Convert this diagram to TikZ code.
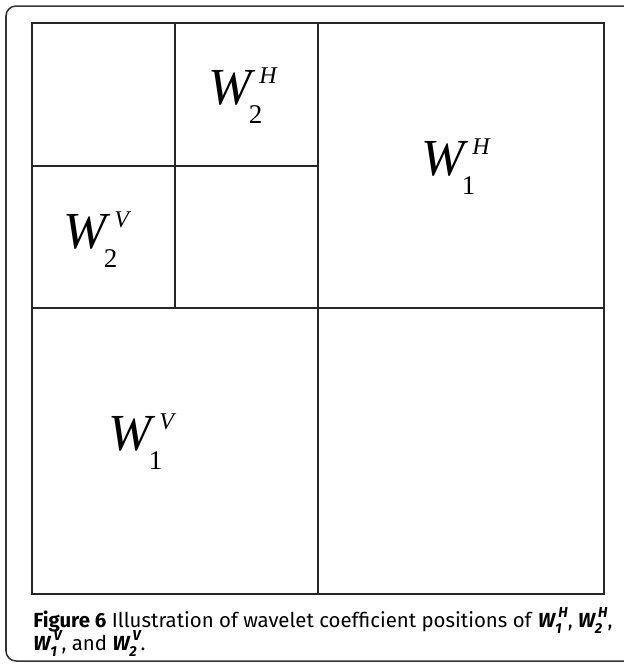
\documentclass[tikz,border=0pt]{standalone}
\usepackage{fontspec}
\setmainfont{Liberation Serif}
\newfontfamily\capfont{Fira Sans}
\usetikzlibrary{positioning}

% coefficient label in the grid: W with subscript and superscript
\newcommand{\wco}[2]{\textit{W}\kern-0.13em\rlap{\raisebox{-0.38em}{\fontsize{13.5}{13.5}\selectfont #1}}\kern0.2em\raisebox{0.4em}{\fontsize{12}{12}\selectfont\textit{#2}}}
% the same in the caption
\newcommand{\cw}[2]{\textbf{\textit{W}}\kern-0.06em\rlap{\raisebox{-0.3em}{\fontsize{7.2}{7.2}\selectfont\bfseries\itshape #1}}\kern0.16em\raisebox{0.45em}{\fontsize{7.2}{7.2}\selectfont\bfseries\itshape #2}}

\begin{document}
\begin{tikzpicture}[x=0.5pt,y=0.5pt]
\tikzstyle{every node}+=[inner sep=0pt]
\tikzstyle{coef}=[anchor=base west, font=\fontsize{26}{26}\selectfont]
\tikzstyle{capline}=[anchor=base west, font=\capfont\fontsize{10.2}{11.5}\selectfont]
\useasboundingbox (0,0) rectangle (624,-666);
\clip (0,0) rectangle (624,-666);
% frame
\draw [black!80, line width=0.75pt, rounded corners=5pt] (6,-6) rectangle (640,-661);
% grid
\draw [black!85, line width=0.6pt] (32,-23) rectangle (604,-594);
\draw [black!85, line width=0.6pt] (318,-23) -- (318,-594);
\draw [black!85, line width=0.6pt] (32,-308) -- (604,-308);
\draw [black!85, line width=0.6pt] (175,-23) -- (175,-308);
\draw [black!85, line width=0.6pt] (32,-166) -- (318,-166);
% labels
\node [coef] (w2h) at (208,-104) {\wco{2}{H}};
\node [coef] (w1h) at (421,-175) {\wco{1}{H}};
\node [coef] (w2v) at (63,-248) {\wco{2}{V}};
\node [coef] (w1v) at (108,-450) {\wco{1}{V}};
% caption
\node [capline] (cap1) at (33,-627) {\textbf{Figure 6} Illustration of wavelet coefficient positions of \cw{1}{H}, \cw{2}{H},};
\node [capline] (cap2) at (33,-650) {\cw{1}{V}, and \cw{2}{V}.};
\end{tikzpicture}
\end{document}
